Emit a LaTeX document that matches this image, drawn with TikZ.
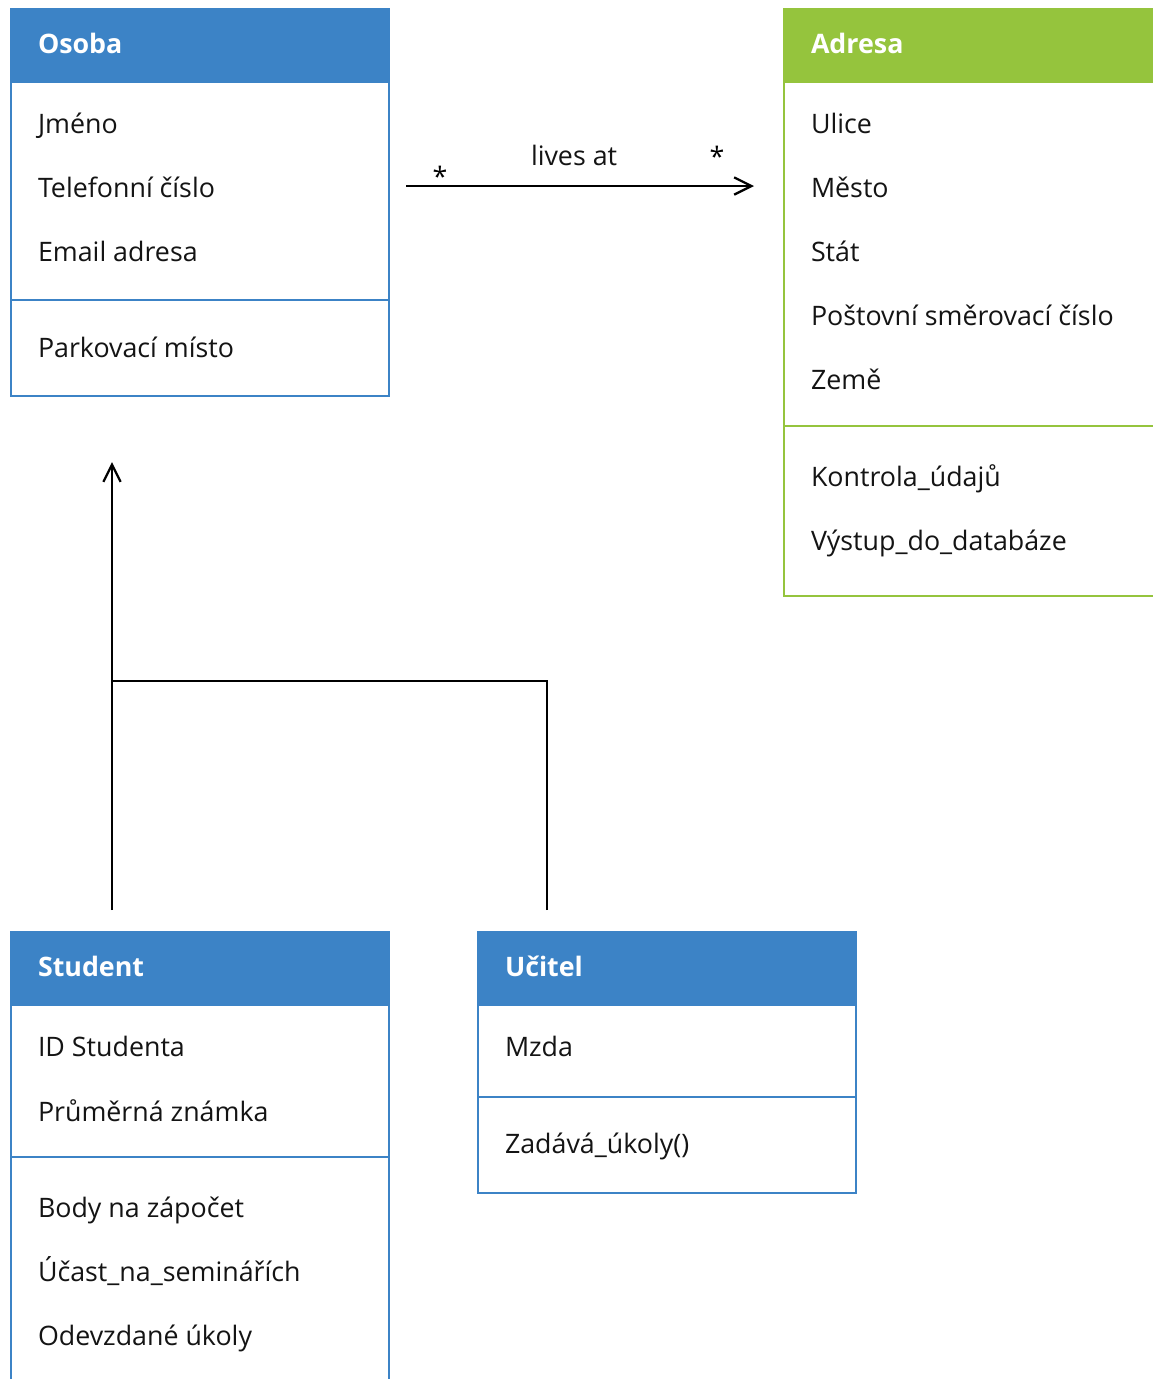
\documentclass[tikz,border=0pt]{standalone}
\usepackage{fontspec}
\setmainfont{Open Sans}
\usetikzlibrary{arrows.meta}
\definecolor{umlblue}{HTML}{3C83C6}
\definecolor{umlgreen}{HTML}{95C43D}
\begin{document}
\begin{tikzpicture}[x=0.75pt,y=-0.75pt,
  every node/.style={inner sep=0pt,outer sep=0pt},
  frame/.style={draw=#1,line width=1.6pt,fill=white,anchor=north west},
  head/.style={fill=#1,draw=#1,line width=1.6pt,anchor=north west,minimum height=54.75pt},
  title/.style={anchor=base west,text=white,font=\fontsize{20.1}{24}\selectfont\bfseries},
  attr/.style={anchor=base west,text=black!92,font=\fontsize{20.1}{24}\selectfont},
  sep/.style={draw=#1,line width=1.6pt},
  link/.style={draw=black,line width=1.7pt,-{Straight Barb[length=13pt,width=13pt,line width=1.7pt]}},
  plain/.style={draw=black,line width=1.7pt}]
\useasboundingbox (0,0) rectangle (1153,1379);
\clip (0,0) rectangle (1153,1379);

% ---------- Osoba ----------
\node[frame=umlblue,minimum width=283.5pt,minimum height=290.25pt] (osoba) at (11,9) {};
\node[head=umlblue,minimum width=283.5pt] (osobaH) at (11,9) {};
\node[title] (osobaT) at (38,53) {Osoba};
\node[attr] (o1) at (38,133) {Jméno};
\node[attr] (o2) at (38,197) {Telefonní číslo};
\node[attr] (o3) at (38,261) {Email adresa};
\draw[sep=umlblue] (11,300) -- (389,300);
\node[attr] (o4) at (38,357) {Parkovací místo};

% ---------- Adresa ----------
\node[frame=umlgreen,minimum width=300pt,minimum height=440.25pt] (adresa) at (784,9) {};
\node[head=umlgreen,minimum width=300pt] (adresaH) at (784,9) {};
\node[title] (adresaT) at (811,53) {Adresa};
\node[attr] (a1) at (811,133) {Ulice};
\node[attr] (a2) at (811,197) {Město};
\node[attr] (a3) at (811,261) {Stát};
\node[attr] (a4) at (811,325) {Poštovní směrovací číslo};
\node[attr] (a5) at (811,389) {Země};
\draw[sep=umlgreen] (784,426) -- (1160,426);
\node[attr] (a6) at (811,486) {Kontrola\_údajů};
\node[attr] (a7) at (811,550) {Výstup\_do\_databáze};

% ---------- Student ----------
\node[frame=umlblue,minimum width=283.5pt,minimum height=360pt] (student) at (11,932) {};
\node[head=umlblue,minimum width=283.5pt] (studentH) at (11,932) {};
\node[title] (studentT) at (38,976) {Student};
\node[attr] (s1) at (38,1056) {ID Studenta};
\node[attr] (s2) at (38,1121) {Průměrná známka};
\draw[sep=umlblue] (11,1157) -- (389,1157);
\node[attr] (s3) at (38,1217) {Body na zápočet};
\node[attr] (s4) at (38,1281) {Účast\_na\_seminářích};
\node[attr] (s5) at (38,1345) {Odevzdané úkoly};

% ---------- Učitel ----------
\node[frame=umlblue,minimum width=283.5pt,minimum height=195.75pt] (ucitel) at (478,932) {};
\node[head=umlblue,minimum width=283.5pt] (ucitelH) at (478,932) {};
\node[title] (ucitelT) at (505,976) {Učitel};
\node[attr] (u1) at (505,1056) {Mzda};
\draw[sep=umlblue] (478,1097) -- (856,1097);
\node[attr] (u2) at (505,1153) {Zadává\_úkoly()};

% ---------- association: lives at ----------
\coordinate (assocA) at (406,186);
\coordinate (assocB) at (754,186);
\draw[link] (assocA) -- (assocB);
\node[attr] (livesat) at (531,165) {lives at};
\node[font=\fontsize{20.1}{24}\selectfont] (multA) at (440,176) {*};
\node[font=\fontsize{20.1}{24}\selectfont] (multB) at (717,156) {*};

% ---------- generalisation ----------
\coordinate (stuTop) at (112,910);
\coordinate (parentEnd) at (112,462);
\coordinate (join) at (112,681);
\coordinate (ucTop) at (547,910);
\draw[link] (stuTop) -- (parentEnd);
\draw[plain] (ucTop) |- (join);
\end{tikzpicture}
\end{document}
